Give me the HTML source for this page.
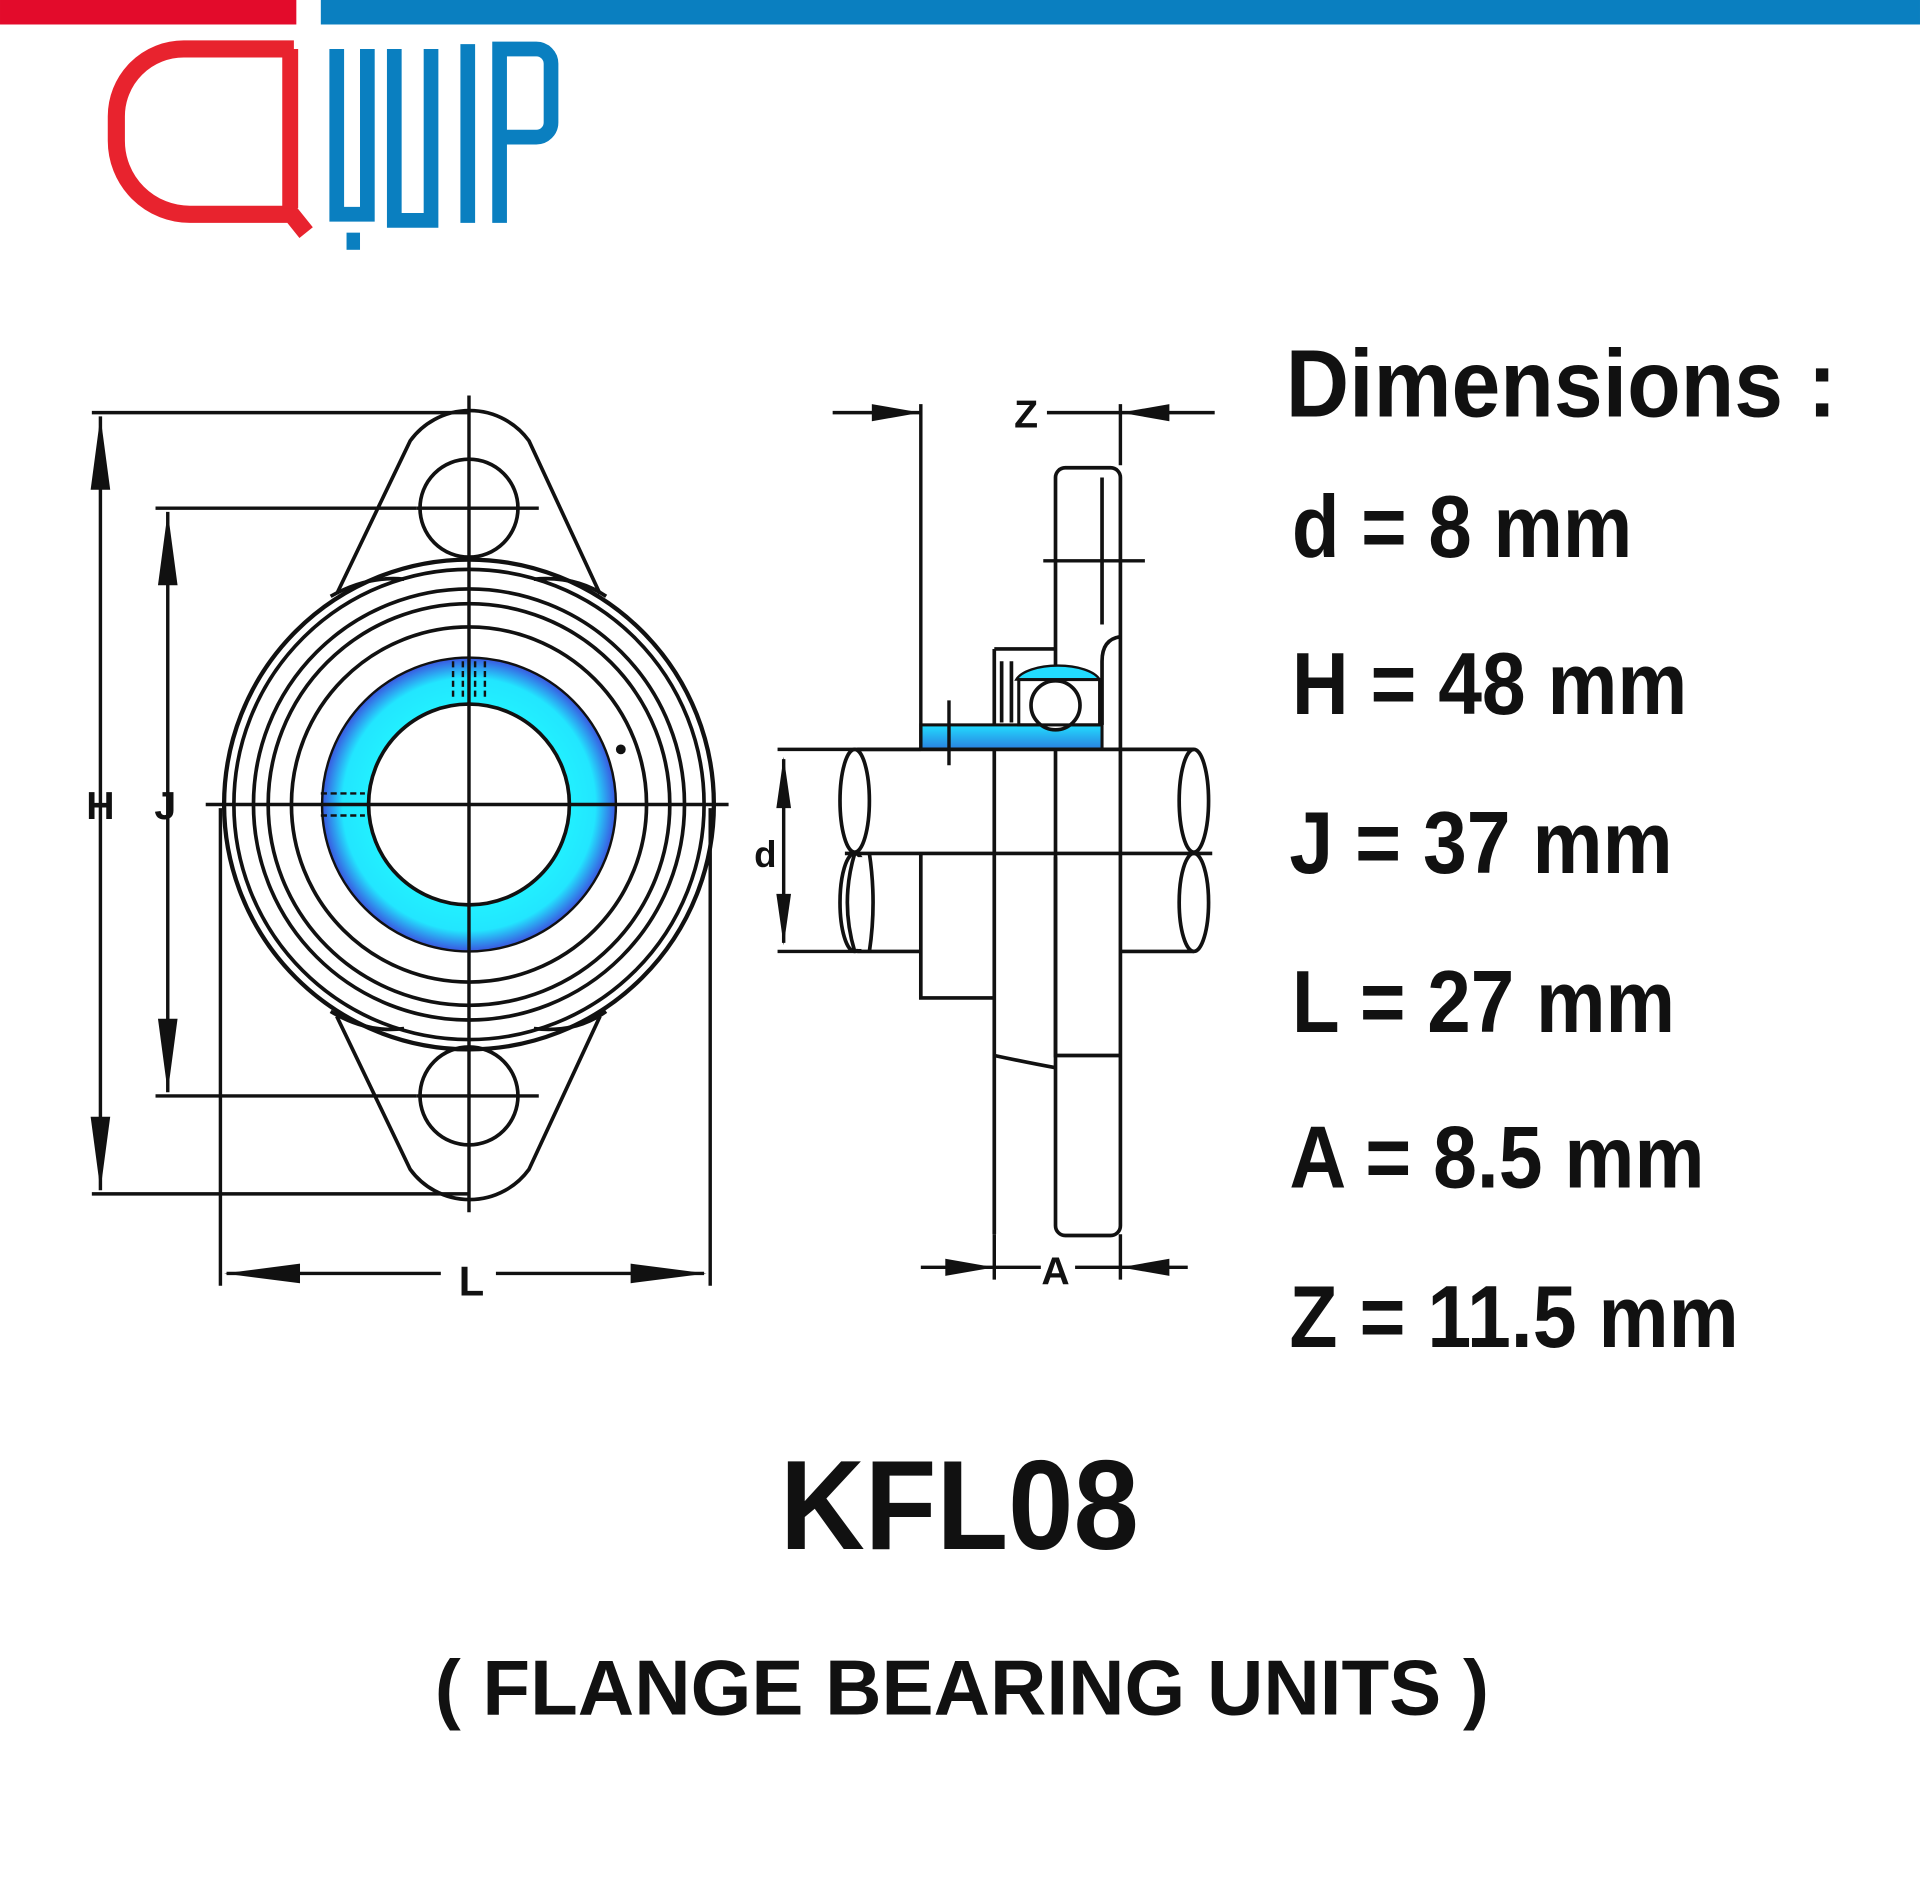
<!DOCTYPE html>
<html><head><meta charset="utf-8"><style>
html,body{margin:0;padding:0;background:#fff;}
svg{display:block;}
text{font-family:"Liberation Sans",sans-serif;font-weight:bold;fill:#111;}
</style></head><body>
<svg width="1920" height="1901" viewBox="0 0 1568 1552.5" xmlns="http://www.w3.org/2000/svg">
<defs>
<radialGradient id="bl" gradientUnits="userSpaceOnUse" cx="383" cy="657" r="120">
<stop offset="0.68" stop-color="#22f0ff"/><stop offset="0.86" stop-color="#22e6ff"/><stop offset="1" stop-color="#3a55e0"/>
</radialGradient>
<linearGradient id="bl2" x1="0" y1="0" x2="0" y2="1"><stop offset="0" stop-color="#22ddff"/><stop offset="1" stop-color="#2a7fe0"/></linearGradient>
</defs>
<rect x="0" y="0" width="242" height="20" fill="#e30b2b"/>
<rect x="262" y="0" width="1306" height="20" fill="#0a7fc0"/>
<path d="M240 40 H150 A55 55 0 0 0 95 95 V115 A60 60 0 0 0 155 175 H238 L250 190" fill="none" stroke="#e8232e" stroke-width="14"/>
<path d="M237 40 V170" stroke="#e8232e" stroke-width="13"/>
<g fill="none" stroke="#0a7fc0" stroke-width="12">
<path d="M275 40 V175 H300 V40"/>
<path d="M322 40 V180 H352 V40"/>
<path d="M382 36 V182"/>
<path d="M408 182 V40 H438 A12 12 0 0 1 450 52 V100 A12 12 0 0 1 438 112 H408"/>
</g>
<rect x="283" y="190" width="11" height="14" fill="#0a7fc0"/>
<g fill="none" stroke="#111" stroke-width="3">
<path d="M275 485 L335 360 A60 60 0 0 1 432 360 L490 485"/>
<path d="M275 830 L335 955 A60 60 0 0 0 432 955 L490 830"/>
<circle cx="383" cy="415" r="40"/><circle cx="383" cy="895" r="40"/>
<circle cx="383" cy="657" r="200" stroke-width="3.5"/><circle cx="383" cy="657" r="192"/>
<circle cx="383" cy="657" r="176"/><circle cx="383" cy="657" r="164"/>
<circle cx="383" cy="657" r="145"/>
</g>
<path d="M330 473 Q300 470 270 487 M436 473 Q470 470 495 487 M330 840 Q300 844 270 826 M436 840 Q470 844 495 826" stroke="#111" stroke-width="3" fill="none"/>
<circle cx="383" cy="657" r="101" fill="none" stroke="url(#bl)" stroke-width="38"/>
<circle cx="383" cy="657" r="120" fill="none" stroke="#111" stroke-width="2"/>
<circle cx="383" cy="657" r="82" fill="#fff" stroke="#111" stroke-width="3"/>
<circle cx="507" cy="612" r="4" fill="#111"/>
<g stroke="#111" stroke-width="2" stroke-dasharray="5 3">
<path d="M370 540 V572 M378 540 V572 M388 540 V572 M396 540 V572"/>
<path d="M262 648 H298 M262 666 H298"/>
</g>
<g stroke="#111" stroke-width="2.8">
<path d="M383 323 V990"/>
<path d="M168 657 H595"/>
<path d="M340 415 H440 M340 895 H440"/>
<path d="M75 337 H383 M75 975 H383"/>
<path d="M127 415 H340 M127 895 H340"/>
<path d="M82 340 V972 M137 418 V892"/>
<path d="M180 660 V1050 M580 660 V1050"/>
<path d="M185 1040 H360 M405 1040 H575"/>
</g>
<g fill="#111">
<path d="M82 340 L74 400 L90 400Z M82 972 L74 912 L90 912Z"/>
<path d="M137 418 L129 478 L145 478Z M137 892 L129 832 L145 832Z"/>
<path d="M183 1040 L245 1032 L245 1048Z M577 1040 L515 1032 L515 1048Z"/>
</g>
<text x="82" y="669" font-size="32" text-anchor="middle">H</text>
<text x="135" y="669" font-size="32" text-anchor="middle">J</text>
<text x="385" y="1058" font-size="34" text-anchor="middle">L</text>
<g fill="none" stroke="#111" stroke-width="3">
<rect x="862" y="382" width="53" height="627" rx="8"/>
<path d="M900 390 V510"/>
<path d="M812 530 V1008 M812 530 H862"/>
<path d="M752 697 V815 H812"/>
<path d="M862 700 V862 H915"/>
<path d="M812 862 Q840 868 862 872"/>
<path d="M915 520 Q900 522 900 540 V592"/>
<path d="M818 540 V590 M826 540 V590"/>
</g>
<rect x="752" y="592" width="148" height="20" fill="url(#bl2)" stroke="#111" stroke-width="2.5"/>
<path d="M830 555 A35 15 0 0 1 898 555 Z" fill="#22ddff" stroke="#111" stroke-width="2"/>
<circle cx="862" cy="576" r="20" fill="#fff" stroke="#111" stroke-width="3"/>
<rect x="832" y="555" width="66" height="37" fill="none" stroke="#111" stroke-width="2.5"/>
<g fill="none" stroke="#111" stroke-width="3">
<path d="M700 612 H975 M690 697 H990 M700 777 H752 M915 777 H975"/>
<ellipse cx="698" cy="654" rx="12" ry="42"/>
<ellipse cx="975" cy="654" rx="12" ry="42"/>
<ellipse cx="698" cy="737" rx="12" ry="40"/>
<ellipse cx="975" cy="737" rx="12" ry="40"/>
</g>
<rect x="700" y="700" width="50" height="75" fill="#fff"/>
<path d="M698 697 Q686 737 698 777" fill="none" stroke="#111" stroke-width="3"/>
<path d="M710 697 Q716 737 710 777" fill="none" stroke="#111" stroke-width="3"/>
<g stroke="#111" stroke-width="2.8">
<path d="M635 612 H752 M635 777 H700"/>
<path d="M640 620 V770"/>
<path d="M752 330 V612 M915 330 V380"/>
<path d="M680 337 H752 M855 337 H915 M915 337 H992"/>
<path d="M852 458 H935"/>
<path d="M775 572 V625"/>
<path d="M812 1008 V1045 M915 1008 V1045"/>
<path d="M752 1035 H850 M878 1035 H970"/>
</g>
<g fill="#111">
<path d="M640 618 L634 660 L646 660Z M640 772 L634 730 L646 730Z"/>
<path d="M752 337 L712 330 L712 344Z M915 337 L955 330 L955 344Z"/>
<path d="M812 1035 L772 1028 L772 1042Z M915 1035 L955 1028 L955 1042Z"/>
</g>
<text x="625" y="708" font-size="30" text-anchor="middle">d</text>
<text x="838" y="349" font-size="32" text-anchor="middle">Z</text>
<text x="862" y="1049" font-size="32" text-anchor="middle">A</text>
<text x="1050" y="340" font-size="78" textLength="450" lengthAdjust="spacingAndGlyphs">Dimensions :</text>
<text x="1055" y="455" font-size="72" textLength="278" lengthAdjust="spacingAndGlyphs">d = 8 mm</text>
<text x="1055" y="583" font-size="72" textLength="323" lengthAdjust="spacingAndGlyphs">H = 48 mm</text>
<text x="1053" y="713" font-size="72" textLength="313" lengthAdjust="spacingAndGlyphs">J = 37 mm</text>
<text x="1055" y="843" font-size="72" textLength="313" lengthAdjust="spacingAndGlyphs">L = 27 mm</text>
<text x="1053" y="970" font-size="72" textLength="339" lengthAdjust="spacingAndGlyphs">A = 8.5 mm</text>
<text x="1053" y="1100" font-size="72" textLength="367" lengthAdjust="spacingAndGlyphs">Z = 11.5 mm</text>
<text x="637" y="1265" font-size="104" textLength="293" lengthAdjust="spacingAndGlyphs">KFL08</text>
<text x="355" y="1400" font-size="64" textLength="861" lengthAdjust="spacingAndGlyphs">( FLANGE BEARING UNITS )</text>
</svg>
</body></html>
